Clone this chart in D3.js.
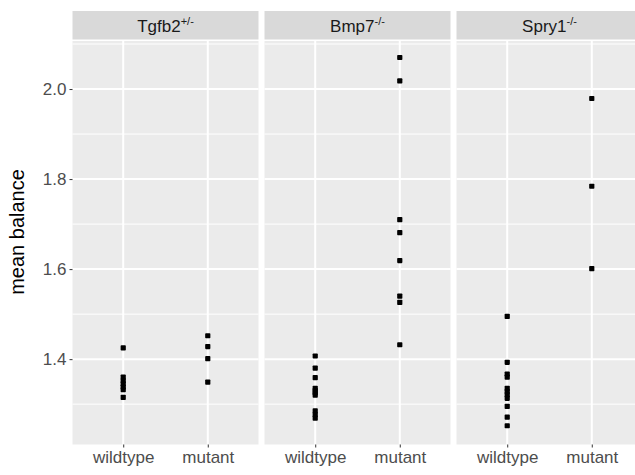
<!DOCTYPE html>
<meta charset="utf-8">
<style>
  body { margin: 0; background: #fff; }
  text { font-family: "Liberation Sans", Arial, sans-serif; }
</style>
<body>
<div id="my_dataviz"></div>
<script src="https://d3js.org/d3.v7.min.js"></script>
<script>

// facets and groups
var facets = ["Tgfb2", "Bmp7", "Spry1"];
var facetSup = ["+/-", "-/-", "-/-"];
var genotypes = ["wildtype", "mutant"];

// mean balance values
var tgfb2Wildtype = [1.425, 1.36, 1.352, 1.345, 1.338, 1.332, 1.315];
var tgfb2Mutant = [1.452, 1.428, 1.401, 1.349];
var bmp7Wildtype = [1.407, 1.38, 1.359, 1.335, 1.33, 1.325, 1.32, 1.285, 1.277, 1.269];
var bmp7Mutant = [2.07, 2.018, 1.71, 1.681, 1.619, 1.54, 1.526, 1.432];
var spry1Wildtype = [1.495, 1.393, 1.367, 1.36, 1.335, 1.328, 1.321, 1.313, 1.295, 1.271, 1.252];
var spry1Mutant = [1.979, 1.784, 1.601];

var yTicks = [1.4, 1.6, 1.8, 2.0];
var yMinor = [1.3, 1.5, 1.7, 1.9, 2.1];

// flatten into rows
var groups = [
  ["Tgfb2", "wildtype", tgfb2Wildtype], ["Tgfb2", "mutant", tgfb2Mutant],
  ["Bmp7", "wildtype", bmp7Wildtype], ["Bmp7", "mutant", bmp7Mutant],
  ["Spry1", "wildtype", spry1Wildtype], ["Spry1", "mutant", spry1Mutant]
];
var data = [];
groups.forEach(function(g) {
  g[2].forEach(function(v) { data.push({facet: g[0], genotype: g[1], value: v}); });
});

var W = 635, H = 475;
var panelTop = 41, panelBottom = 444.5;
var fontSize = "17px";

var svg = d3.select("#my_dataviz")
  .append("svg")
    .attr("width", W)
    .attr("height", H);

// panel positions
var fx = d3.scaleBand()
  .domain(facets)
  .range([72.5, 642.5])
  .paddingInner(6 / 192)
  .paddingOuter(0);

var x = d3.scalePoint()
  .domain(genotypes)
  .range([0, fx.bandwidth()])
  .padding(0.6);

var y = d3.scaleLinear()
  .domain([1.2104, 2.1067])
  .range([panelBottom, panelTop]);

facets.forEach(function(f, i) {
  var g = svg.append("g")
    .attr("transform", "translate(" + fx(f) + ",0)");

  // strip
  g.append("rect")
    .attr("x", 0).attr("y", 11)
    .attr("width", fx.bandwidth()).attr("height", 28.5)
    .attr("fill", "#D9D9D9");
  var st = g.append("text")
    .attr("x", fx.bandwidth() / 2)
    .attr("y", 31.5)
    .attr("text-anchor", "middle")
    .attr("fill", "#1A1A1A")
    .style("font-size", fontSize);
  st.append("tspan").text(f);
  st.append("tspan")
    .attr("dy", -7)
    .style("font-size", "11px")
    .text(facetSup[i]);

  // panel background
  g.append("rect")
    .attr("x", 0).attr("y", panelTop)
    .attr("width", fx.bandwidth()).attr("height", panelBottom - panelTop)
    .attr("fill", "#EBEBEB");

  // grid
  g.selectAll(".minor")
    .data(yMinor)
    .enter().append("line")
      .attr("x1", 0).attr("x2", fx.bandwidth())
      .attr("y1", function(d) { return y(d); })
      .attr("y2", function(d) { return y(d); })
      .attr("stroke", "#fff").attr("stroke-width", 1);
  g.selectAll(".major")
    .data(yTicks)
    .enter().append("line")
      .attr("x1", 0).attr("x2", fx.bandwidth())
      .attr("y1", function(d) { return y(d); })
      .attr("y2", function(d) { return y(d); })
      .attr("stroke", "#fff").attr("stroke-width", 2);
  g.selectAll(".vmajor")
    .data(genotypes)
    .enter().append("line")
      .attr("x1", function(d) { return x(d); })
      .attr("x2", function(d) { return x(d); })
      .attr("y1", panelTop).attr("y2", panelBottom)
      .attr("stroke", "#fff").attr("stroke-width", 2);

  // points
  g.selectAll(".pt")
    .data(data.filter(function(d) { return d.facet === f; }))
    .enter().append("rect")
      .attr("x", function(d) { return x(d.genotype) - 2.6; })
      .attr("y", function(d) { return y(d.value) - 2.6; })
      .attr("width", 5.2).attr("height", 5.2)
      .attr("rx", 0.8)
      .attr("fill", "#000");

  // x axis
  var xa = g.append("g")
    .attr("transform", "translate(0," + panelBottom + ")")
    .call(d3.axisBottom(x).tickSize(3).tickPadding(3));
  xa.select(".domain").remove();
  xa.selectAll("line").attr("stroke", "#333333");
  xa.selectAll("text")
    .attr("fill", "#4D4D4D")
    .style("font-size", fontSize)
    .style("font-family", "'Liberation Sans', Arial, sans-serif");
});

// y axis
var ya = svg.append("g")
  .attr("transform", "translate(" + fx(facets[0]) + ",0)")
  .call(d3.axisLeft(y).tickValues(yTicks).tickFormat(d3.format(".1f")).tickSize(3).tickPadding(3));
ya.select(".domain").remove();
ya.selectAll("line").attr("stroke", "#333333");
ya.selectAll("text")
  .attr("fill", "#4D4D4D")
  .style("font-size", fontSize)
  .style("font-family", "'Liberation Sans', Arial, sans-serif");

// y title
svg.append("text")
  .attr("transform", "translate(24,232) rotate(-90)")
  .attr("text-anchor", "middle")
  .attr("fill", "#000")
  .style("font-size", "20px")
  .text("mean balance");

</script>
</body>
